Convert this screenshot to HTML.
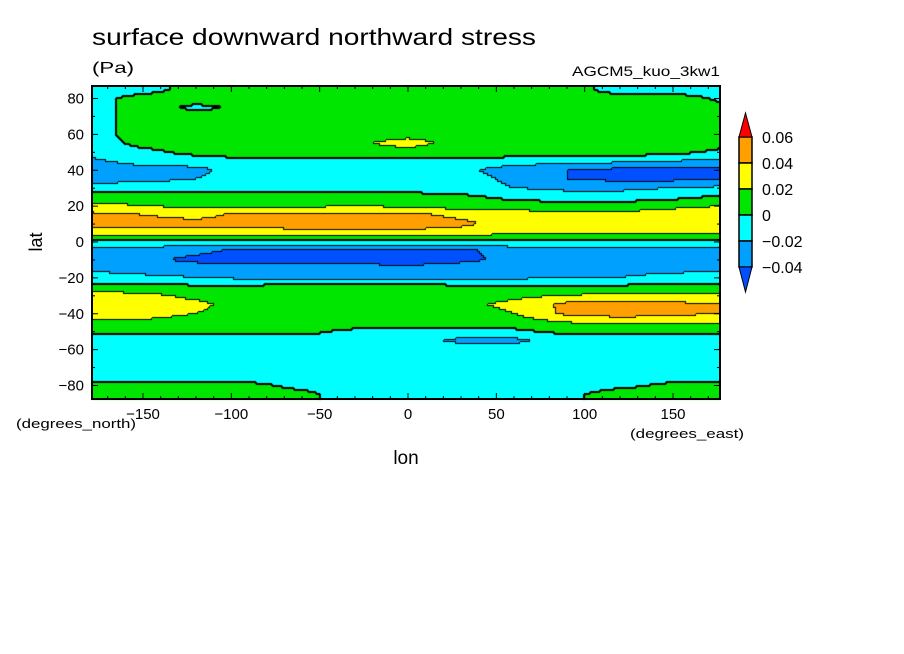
<!DOCTYPE html>
<html><head><meta charset="utf-8"><style>
body{margin:0;background:#fff;width:904px;height:654px;overflow:hidden;position:relative;font-family:"Liberation Sans",sans-serif}
canvas{position:absolute;left:0;top:0}
svg{position:absolute;left:0;top:0}
text{font-family:"Liberation Sans",sans-serif;fill:#000}
</style></head><body>
<canvas id="cv" width="904" height="654"></canvas>
<svg id="sv" width="904" height="654">
<text x="92" y="45" font-size="23" textLength="444" lengthAdjust="spacingAndGlyphs">surface downward northward stress</text>
<text x="92" y="73" font-size="16" textLength="42" lengthAdjust="spacingAndGlyphs">(Pa)</text>
<text x="572" y="76" font-size="14" textLength="148" lengthAdjust="spacingAndGlyphs">AGCM5_kuo_3kw1</text>
<text x="42" y="242" font-size="18" text-anchor="middle" transform="rotate(-90 42 242)">lat</text>
<text x="406" y="464" font-size="19" text-anchor="middle">lon</text>
<text x="16" y="428" font-size="13" textLength="120" lengthAdjust="spacingAndGlyphs">(degrees_north)</text>
<text x="630" y="438" font-size="13" textLength="114" lengthAdjust="spacingAndGlyphs">(degrees_east)</text>
<g id="axes"></g>
<g id="legend"></g>
</svg>
<script>
const lons=[-180,-150,-120,-90,-60,-30,0,30,60,90,120,150,180];
const lats=[85,80,75,70,65,60,55,50,45,40,35,30,25,20,15,10,5,0,-5,-10,-15,-20,-25,-30,-35,-40,-45,-50,-55,-60,-65,-70,-75,-80,-85];
const stress=[
[-.01,-.01,.01,.01,.01,.01,.01,.01,.01,.01,-.01,-.01,-.01],
[-.01,.01,.01,.01,.01,.01,.01,.01,.01,.01,.01,.01,-.005],
[-.01,.01,-.005,.005,.01,.01,.01,.01,.01,.01,.01,.01,.005],
[-.01,.01,.01,.01,.01,.01,.01,.01,.01,.01,.01,.01,.01],
[-.01,.01,.01,.01,.01,.01,.01,.01,.01,.01,.01,.01,.01],
[-.01,.01,.01,.01,.01,.01,.01,.01,.01,.01,.01,.01,.01],
[-.01,.005,.01,.01,.01,.015,.03,.01,.01,.01,.01,.01,.005],
[-.01,-.005,.005,.01,.01,.01,.01,.01,.01,.01,.01,.005,-.005],
[-.025,-.01,-.01,-.005,-.005,-.005,-.005,-.005,-.01,-.01,-.015,-.02,-.025],
[-.035,-.03,-.025,-.01,-.01,-.01,-.01,-.015,-.03,-.04,-.045,-.045,-.045],
[-.03,-.025,-.02,-.01,-.01,-.01,-.01,-.01,-.025,-.04,-.045,-.045,-.045],
[-.01,-.01,-.01,-.01,-.01,-.01,-.01,-.01,-.02,-.025,-.025,-.02,-.015],
[.01,.01,.01,.01,.01,.01,.01,.005,-.005,-.01,-.01,-.005,.005],
[.025,.02,.015,.015,.015,.02,.015,.01,.01,.01,.01,.015,.02],
[.045,.04,.035,.045,.045,.045,.045,.035,.03,.025,.025,.03,.035],
[.045,.045,.045,.045,.05,.05,.05,.045,.03,.03,.03,.035,.04],
[.03,.03,.03,.03,.035,.035,.035,.03,.025,.025,.025,.025,.025],
[-.005,-.005,-.005,-.005,-.005,-.005,-.005,-.005,-.005,-.005,-.005,-.005,-.005],
[-.025,-.03,-.035,-.045,-.045,-.045,-.045,-.045,-.03,-.025,-.025,-.03,-.025],
[-.03,-.035,-.045,-.05,-.05,-.05,-.05,-.045,-.035,-.03,-.03,-.03,-.03],
[-.025,-.03,-.03,-.03,-.03,-.03,-.035,-.03,-.03,-.025,-.025,-.025,-.025],
[-.01,-.015,-.02,-.025,-.025,-.025,-.025,-.025,-.025,-.02,-.02,-.015,-.01],
[.005,.005,.005,.005,.01,.01,.01,.005,.005,.005,.005,.005,.005],
[.03,.025,.015,.01,.01,.01,.01,.01,.015,.02,.025,.025,.025],
[.035,.03,.025,.01,.01,.01,.01,.015,.025,.045,.045,.045,.04],
[.03,.03,.02,.01,.01,.01,.01,.01,.02,.045,.05,.045,.04],
[.015,.015,.01,.01,.01,.01,.01,.01,.01,.02,.025,.025,.02],
[.005,.005,.005,.005,.005,-.005,-.005,-.005,-.005,.005,.005,.005,.005],
[-.01,-.01,-.01,-.01,-.01,-.01,-.01,-.025,-.025,-.01,-.01,-.01,-.01],
[-.01,-.01,-.01,-.01,-.01,-.01,-.01,-.01,-.01,-.01,-.01,-.01,-.01],
[-.01,-.01,-.01,-.01,-.01,-.01,-.01,-.01,-.01,-.01,-.01,-.01,-.01],
[-.01,-.01,-.01,-.01,-.01,-.01,-.01,-.01,-.01,-.01,-.01,-.01,-.01],
[-.01,-.01,-.01,-.01,-.01,-.01,-.01,-.01,-.01,-.01,-.01,-.01,-.01],
[.01,.01,.01,.005,-.005,-.01,-.01,-.01,-.01,-.01,-.005,.005,.01],
[.01,.01,.01,.01,.005,-.01,-.01,-.01,-.01,-.005,.01,.01,.01]];
const levels=[-0.04,-0.02,0,0.02,0.04,0.06];
const levelLabels=["0.06","0.04","0.02","0","\u22120.02","\u22120.04"];
const xTicks=[-150,-100,-50,0,50,100,150];
const yTicks=[80,60,40,20,0,-20,-40,-60,-80];
const colors=["#0050ff","#00a0ff","#00ffff","#00e600","#ffff00","#ffa000","#ff0000"];

(function(){
const PX0=92,PX1=720,PY0=86,PY1=399;
const xs=lon=>408+lon*265/150;
const ys=lat=>242-lat*143.5/80;
const lonOf=x=>(x-408)*150/265;
const latOf=y=>(242-y)*80/143.5;
function val(lon,lat){
  let i=(lon-lons[0])/(lons[1]-lons[0]); i=Math.max(0,Math.min(lons.length-1.0001,i));
  let j=(lats[0]-lat)/(lats[0]-lats[1]); j=Math.max(0,Math.min(lats.length-1.0001,j));
  const i0=Math.floor(i),j0=Math.floor(j),fi=i-i0,fj=j-j0;
  const a=stress[j0][i0],b=stress[j0][i0+1],c=stress[j0+1][i0],d=stress[j0+1][i0+1];
  return (a*(1-fi)+b*fi)*(1-fj)+(c*(1-fi)+d*fi)*fj;
}
function bandOf(v){let k=0;while(k<levels.length&&v>=levels[k])k++;return k;}
const ctx=document.getElementById('cv').getContext('2d');
const st=2;
const nx=Math.ceil((PX1-PX0)/st),ny=Math.ceil((PY1-PY0)/st);
const B=[];
for(let r=0;r<ny;r++){B.push([]);for(let c=0;c<nx;c++){
  const x=PX0+c*st,y=PY0+r*st;const b=bandOf(val(lonOf(x+1),latOf(y+1)));B[r].push(b);
  ctx.fillStyle=colors[b];ctx.fillRect(x,y,st,st);}}
ctx.fillStyle='#000';
for(let r=0;r<ny;r++){for(let c=0;c<nx;c++){
  const x=PX0+c*st,y=PY0+r*st,b=B[r][c];
  if(c+1<nx&&B[r][c+1]!==b){const z=(Math.min(b,B[r][c+1])===2);ctx.fillRect(x+st-1,y,z?2:1,st);}
  if(r+1<ny&&B[r+1][c]!==b){const z=(Math.min(b,B[r+1][c])===2);ctx.fillRect(x,y+st-1,st,z?2:1);}
}}
const NS="http://www.w3.org/2000/svg";
function mk(tag,attrs,parent){const e=document.createElementNS(NS,tag);for(const k in attrs)e.setAttribute(k,attrs[k]);parent.appendChild(e);return e;}
const ax=document.getElementById('axes');
const frame=mk('rect',{x:PX0,y:PY0,width:PX1-PX0,height:PY1-PY0,fill:'none',stroke:'#000','stroke-width':2},ax);


for(let lon=-170;lon<=170;lon+=10){const x=xs(lon);
  mk('line',{x1:x,y1:PY1,x2:x,y2:PY1-(lon%50===0?6:3),stroke:'#000'},ax);
  mk('line',{x1:x,y1:PY0,x2:x,y2:PY0+(lon%50===0?6:3),stroke:'#000'},ax);}
for(let lat=-80;lat<=80;lat+=10){const y=ys(lat);
  mk('line',{x1:PX0,y1:y,x2:PX0+(lat%20===0?6:3),y2:y,stroke:'#000'},ax);
  mk('line',{x1:PX1,y1:y,x2:PX1-(lat%20===0?6:3),y2:y,stroke:'#000'},ax);}
xTicks.forEach(t=>{const e=mk('text',{x:xs(t),y:419,'font-size':15,'text-anchor':'middle'},ax);
  e.textContent=t<0?'\u2212'+(-t):String(t);
  
  });
yTicks.forEach(t=>{const e=mk('text',{x:84,y:ys(t)+5,'font-size':15,'text-anchor':'end'},ax);
  e.textContent=t<0?'\u2212'+(-t):String(t);
  
  });
const lg=document.getElementById('legend');
const LX=739,LW=13,legTop=137,bh=26;
const n=levels.length-1;
for(let k=0;k<n;k++){const c=colors[levels.length-1-k];
  const r=mk('rect',{x:LX,y:legTop+k*bh,width:LW,height:bh,fill:c,stroke:'#000','stroke-width':1.5},lg);
  
  }
const tu=mk('polygon',{points:`${LX},${legTop} ${LX+LW},${legTop} ${LX+LW/2},${legTop-24}`,fill:colors[colors.length-1],stroke:'#000'},lg);


const bot=legTop+n*bh;
const td=mk('polygon',{points:`${LX},${bot} ${LX+LW},${bot} ${LX+LW/2},${bot+25}`,fill:colors[0],stroke:'#000'},lg);


levelLabels.forEach((s,k)=>{const e=mk('text',{x:762,y:legTop+k*bh+6,'font-size':16},lg);e.textContent=s;
  
  });
})();
</script>
</body></html>
